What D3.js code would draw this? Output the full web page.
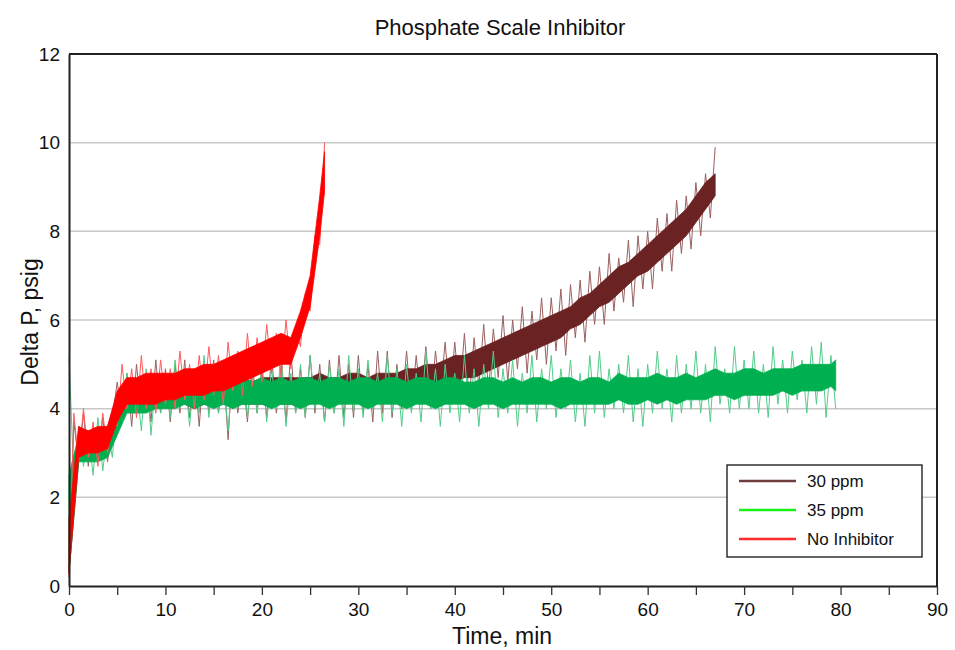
<!DOCTYPE html>
<html>
<head>
<meta charset="utf-8">
<script src="https://cdn.jsdelivr.net/npm/d3@7"></script>
<style>
  body { margin: 0; background: #fff; }
  svg text { font-family: "Liberation Sans", Arial, sans-serif; fill: #111; }
</style>
</head>
<body>
<div id="chart"></div>
<script>
// ---- data (Delta P, psig) ----
// core band: 1-min samples, lo / hi of the dense trace
const redCoreT = d3.range(0, 27).concat([26.5]);
const redLo = [0.3, 2.9, 3.0, 3.0, 3.1, 3.7, 4.1, 4.1, 4.1, 4.1, 4.2, 4.2, 4.3, 4.3, 4.3, 4.4, 4.4, 4.5, 4.6, 4.7,
  4.8, 4.9, 5.0, 5.0, 5.6, 6.3, 7.9, 8.9];
const redHi = [1.5, 3.6, 3.5, 3.6, 3.6, 4.4, 4.7, 4.7, 4.8, 4.8, 4.8, 4.8, 4.9, 4.9, 5.0, 5.0, 5.1, 5.2, 5.3, 5.4,
  5.5, 5.6, 5.7, 5.6, 6.2, 7.0, 8.8, 9.8];
// spikes: 0.5-min samples, extremes of the trace
const redSpikes = [0.2, 3.9, 2.8, 4.0, 2.9, 3.7, 2.7, 3.9, 3.0, 3.8,
  3.6, 5.0, 4.0, 4.9, 3.8, 5.2, 4.0, 4.9, 3.9, 5.1,
  4.1, 4.9, 4.0, 5.3, 4.2, 5.0, 4.0, 5.2, 4.2, 5.4,
  4.3, 5.2, 4.1, 5.5, 4.4, 5.3, 4.3, 5.7, 4.5, 5.6,
  4.6, 5.9, 4.8, 5.7, 4.7, 6.0, 4.9, 5.8, 5.4, 6.6,
  6.2, 7.9, 7.7, 10.0];

const greenCoreT = d3.range(0, 80).concat([79.5]);
const greenLo = [0.3, 2.8, 2.8, 2.8, 2.9, 3.4, 3.9, 3.9, 3.9, 4.0,
  4.0, 4.0, 4.1, 4.0, 4.1, 4.0, 4.1, 4.0, 4.1, 4.1,
  4.1, 4.0, 4.1, 4.1, 4.0, 4.1, 4.1, 4.0, 4.1, 4.1,
  4.1, 4.0, 4.1, 4.1, 4.1, 4.0, 4.1, 4.1, 4.0, 4.1,
  4.1, 4.1, 4.0, 4.1, 4.1, 4.0, 4.1, 4.1, 4.1, 4.1,
  4.1, 4.0, 4.1, 4.1, 4.1, 4.1, 4.1, 4.2, 4.1, 4.1,
  4.2, 4.1, 4.2, 4.1, 4.2, 4.2, 4.2, 4.3, 4.3, 4.2,
  4.3, 4.3, 4.3, 4.3, 4.4, 4.3, 4.4, 4.4, 4.4, 4.5, 4.4];
const greenHi = [2.5, 3.4, 3.4, 3.4, 3.5, 4.2, 4.5, 4.5, 4.6, 4.5,
  4.6, 4.6, 4.6, 4.7, 4.6, 4.6, 4.7, 4.6, 4.7, 4.6,
  4.7, 4.6, 4.7, 4.6, 4.7, 4.7, 4.6, 4.7, 4.7, 4.6,
  4.7, 4.7, 4.6, 4.7, 4.7, 4.6, 4.7, 4.7, 4.6, 4.7,
  4.7, 4.6, 4.6, 4.7, 4.7, 4.6, 4.7, 4.6, 4.7, 4.7,
  4.6, 4.7, 4.7, 4.6, 4.7, 4.7, 4.6, 4.8, 4.7, 4.7,
  4.7, 4.8, 4.7, 4.7, 4.8, 4.7, 4.8, 4.9, 4.8, 4.8,
  4.9, 4.9, 4.8, 4.9, 4.9, 4.9, 5.0, 5.0, 5.0, 5.0, 5.1];
const greenSpikes = [5.2, 2.4, 3.6, 2.7, 3.5, 2.5, 3.8, 2.6, 3.5, 2.9,
  4.3, 3.7, 4.8, 3.9, 4.6, 3.5, 4.9, 3.4, 4.7, 3.9,
  4.8, 3.8, 5.1, 4.0, 4.8, 3.6, 4.9, 3.9, 5.2, 3.8,
  4.9, 3.9, 4.8, 3.5, 5.0, 4.0, 5.2, 3.8, 4.8, 3.9,
  5.1, 3.7, 4.9, 4.0, 5.3, 3.6, 4.8, 3.9, 5.0, 3.8,
  5.2, 4.0, 4.8, 3.7, 5.0, 3.9, 4.9, 3.6, 5.2, 3.9,
  4.9, 3.8, 5.1, 4.0, 4.8, 3.7, 5.2, 3.9, 4.9, 3.6,
  5.0, 3.9, 4.8, 3.7, 5.3, 4.0, 4.9, 3.6, 5.0, 3.9,
  4.8, 3.7, 5.2, 3.9, 4.9, 3.6, 5.0, 4.0, 5.3, 3.8,
  4.9, 3.9, 5.1, 3.6, 4.8, 3.9, 5.2, 3.7, 4.9, 4.0,
  5.2, 3.8, 4.9, 4.0, 5.1, 3.7, 4.8, 3.6, 5.2, 3.9,
  5.3, 3.8, 4.9, 4.0, 5.0, 3.9, 5.2, 3.7, 4.9, 3.6,
  5.0, 3.9, 5.3, 4.0, 4.9, 3.7, 5.2, 3.9, 5.0, 4.0,
  5.3, 3.9, 5.0, 3.7, 5.4, 4.1, 4.9, 3.9, 5.4, 4.0,
  5.1, 4.0, 5.3, 3.9, 5.0, 3.8, 5.4, 4.1, 5.1, 3.9,
  5.3, 4.2, 5.1, 3.9, 5.4, 4.1, 5.5, 3.8, 5.2, 4.0];

const brownCoreT = d3.range(0, 68);
const brownLo = [0.3, 2.8, 2.9, 2.9, 3.0, 3.6, 4.0, 4.0, 4.0, 4.1,
  4.1, 4.1, 4.1, 4.0, 4.1, 4.1, 4.1, 4.1, 4.1, 4.1,
  4.1, 4.2, 4.1, 4.1, 4.2, 4.1, 4.2, 4.1, 4.2, 4.2,
  4.2, 4.2, 4.2, 4.3, 4.2, 4.3, 4.3, 4.4, 4.5, 4.6,
  4.6, 4.7, 4.7, 4.8, 4.9, 5.0, 5.1, 5.2, 5.3, 5.4,
  5.5, 5.6, 5.8, 5.9, 6.1, 6.3, 6.4, 6.6, 6.8, 7.0,
  7.1, 7.3, 7.5, 7.7, 7.9, 8.2, 8.5, 8.8];
const brownHi = [1.5, 3.5, 3.5, 3.5, 3.6, 4.3, 4.6, 4.6, 4.7, 4.6,
  4.7, 4.6, 4.7, 4.6, 4.7, 4.7, 4.6, 4.7, 4.7, 4.6,
  4.7, 4.7, 4.7, 4.7, 4.7, 4.7, 4.8, 4.7, 4.7, 4.8,
  4.8, 4.7, 4.8, 4.8, 4.8, 4.9, 4.9, 5.0, 5.0, 5.1,
  5.2, 5.2, 5.3, 5.4, 5.5, 5.6, 5.7, 5.8, 5.9, 6.0,
  6.1, 6.2, 6.3, 6.5, 6.6, 6.8, 7.0, 7.2, 7.3, 7.5,
  7.7, 7.9, 8.1, 8.3, 8.5, 8.8, 9.1, 9.3];
const brownSpikes = [0.2, 3.7, 2.8, 3.9, 2.7, 3.6, 2.9, 3.8, 2.8, 3.8,
  4.6, 3.8, 4.8, 3.6, 5.0, 3.9, 4.8, 3.7, 5.1, 3.9,
  4.9, 3.7, 5.0, 3.9, 5.1, 3.8, 4.9, 3.6, 5.0, 3.9,
  5.1, 3.9, 4.9, 3.3, 5.2, 3.9, 4.8, 3.7, 5.1, 3.9,
  4.9, 3.8, 5.2, 3.9, 5.0, 3.7, 5.3, 3.9, 4.9, 3.8,
  5.2, 3.9, 5.0, 3.7, 5.1, 3.9, 5.2, 3.8, 5.0, 3.8,
  5.2, 3.9, 5.0, 3.7, 5.3, 3.9, 5.3, 3.8, 5.0, 4.0,
  5.3, 4.0, 5.2, 4.1, 5.4, 4.0, 5.3, 4.3, 5.5, 4.2,
  5.5, 4.3, 5.7, 4.2, 5.6, 4.5, 5.9, 4.4, 5.8, 4.7,
  6.1, 4.6, 6.0, 4.9, 6.3, 4.8, 6.2, 5.1, 6.5, 5.0,
  6.5, 5.3, 6.7, 5.2, 6.8, 5.6, 6.9, 5.5, 7.1, 5.9,
  7.2, 5.9, 7.5, 6.2, 7.4, 6.4, 7.8, 6.3, 7.9, 6.7,
  8.0, 6.7, 8.3, 7.1, 8.4, 7.1, 8.7, 7.5, 8.8, 7.6,
  9.1, 7.9, 9.3, 8.3, 9.9];

const seriesNames = ["30 ppm", "35 ppm", "No Inhibitor"];
const xTicks = d3.range(0, 91, 5);
const xLabels = d3.range(0, 91, 10);
const yTicks = d3.range(0, 13, 2);

const width = 955, height = 650;
const margin = { top: 54, right: 18, bottom: 64, left: 69 };
const innerW = width - margin.left - margin.right;
const innerH = height - margin.top - margin.bottom;

const svg = d3.select("#chart").append("svg")
  .attr("width", width)
  .attr("height", height);

const g = svg.append("g").attr("transform", `translate(${margin.left},${margin.top})`);

const x = d3.scaleLinear().domain([0, 90]).range([0, innerW]);
const y = d3.scaleLinear().domain([0, 12]).range([innerH, 0]);

// gridlines
g.append("g")
  .selectAll("line")
  .data(yTicks.filter(v => v > 0 && v < 12))
  .enter().append("line")
  .attr("x1", 0).attr("x2", innerW)
  .attr("y1", d => y(d)).attr("y2", d => y(d))
  .attr("stroke", "#c8c8c8")
  .attr("stroke-width", 1.5);

const series = [
  { name: seriesNames[0], t: brownCoreT, lo: brownLo, hi: brownHi, spikes: brownSpikes, color: "#6b2222", light: "#9a6060", legend: "#6e3d3d" },
  { name: seriesNames[1], t: greenCoreT, lo: greenLo, hi: greenHi, spikes: greenSpikes, color: "#00b050", light: "#52cc88", legend: "#19f019" },
  { name: seriesNames[2], t: redCoreT, lo: redLo, hi: redHi, spikes: redSpikes, color: "#ff0000", light: "#ff5a5a", legend: "#ff2a2a" }
];

const area = d3.area()
  .x(d => x(d.t))
  .y0(d => y(d.lo))
  .y1(d => y(d.hi));

const spikeLine = d3.line()
  .x(d => x(d.t))
  .y(d => y(d.v));

series.forEach(s => {
  const core = s.t.map((t, i) => ({ t, lo: s.lo[i], hi: s.hi[i] }));
  const spikes = s.spikes.map((v, i) => ({ t: i * 0.5, v }));
  g.append("path")
    .datum(spikes)
    .attr("d", spikeLine)
    .attr("fill", "none")
    .attr("stroke", s.light)
    .attr("stroke-width", 1);
  g.append("path")
    .datum(core)
    .attr("d", area)
    .attr("fill", s.color)
    .attr("stroke", s.color)
    .attr("stroke-width", 0.8);
});

// frame
g.append("line").attr("x1", 0).attr("x2", innerW).attr("y1", 0).attr("y2", 0)
  .attr("stroke", "#222").attr("stroke-width", 2);
g.append("line").attr("x1", innerW).attr("x2", innerW).attr("y1", 0).attr("y2", innerH)
  .attr("stroke", "#222").attr("stroke-width", 2);

// x axis
const xAxis = g.append("g")
  .attr("transform", `translate(0,${innerH})`)
  .call(d3.axisBottom(x).tickValues(xTicks).tickSize(9).tickSizeOuter(0)
    .tickFormat(d => xLabels.includes(d) ? d : ""));
xAxis.select(".domain").attr("stroke", "#222").attr("stroke-width", 2);
xAxis.selectAll(".tick line").attr("stroke", "#333").attr("stroke-width", 1.3);
xAxis.selectAll(".tick text").attr("font-size", 19).attr("dy", "0.95em").attr("fill", "#111");

// y axis
const yAxis = g.append("g")
  .call(d3.axisLeft(y).tickValues(yTicks).tickSize(0).tickPadding(9).tickSizeOuter(0));
yAxis.select(".domain").attr("stroke", "#222").attr("stroke-width", 2);
yAxis.selectAll(".tick text").attr("font-size", 19).attr("fill", "#111");

// titles
svg.append("text")
  .attr("x", 500).attr("y", 35)
  .attr("text-anchor", "middle")
  .attr("font-size", 22)
  .text("Phosphate Scale Inhibitor");

svg.append("text")
  .attr("x", 502).attr("y", 644)
  .attr("text-anchor", "middle")
  .attr("font-size", 23)
  .text("Time, min");

svg.append("text")
  .attr("transform", `translate(38,${margin.top + innerH / 2 + 2}) rotate(-90)`)
  .attr("text-anchor", "middle")
  .attr("font-size", 23)
  .text("Delta P, psig");

// legend
const legend = svg.append("g").attr("transform", "translate(727,465)");
legend.append("rect")
  .attr("width", 195).attr("height", 92)
  .attr("fill", "#fff")
  .attr("stroke", "#111")
  .attr("stroke-width", 1.3);
series.forEach((s, i) => {
  const row = legend.append("g").attr("transform", `translate(0,${16 + i * 29})`);
  row.append("line")
    .attr("x1", 12).attr("x2", 69)
    .attr("stroke", s.legend)
    .attr("stroke-width", 2.5);
  row.append("text")
    .attr("x", 80).attr("y", 6)
    .attr("font-size", 17)
    .text(s.name);
});
</script>
</body>
</html>
